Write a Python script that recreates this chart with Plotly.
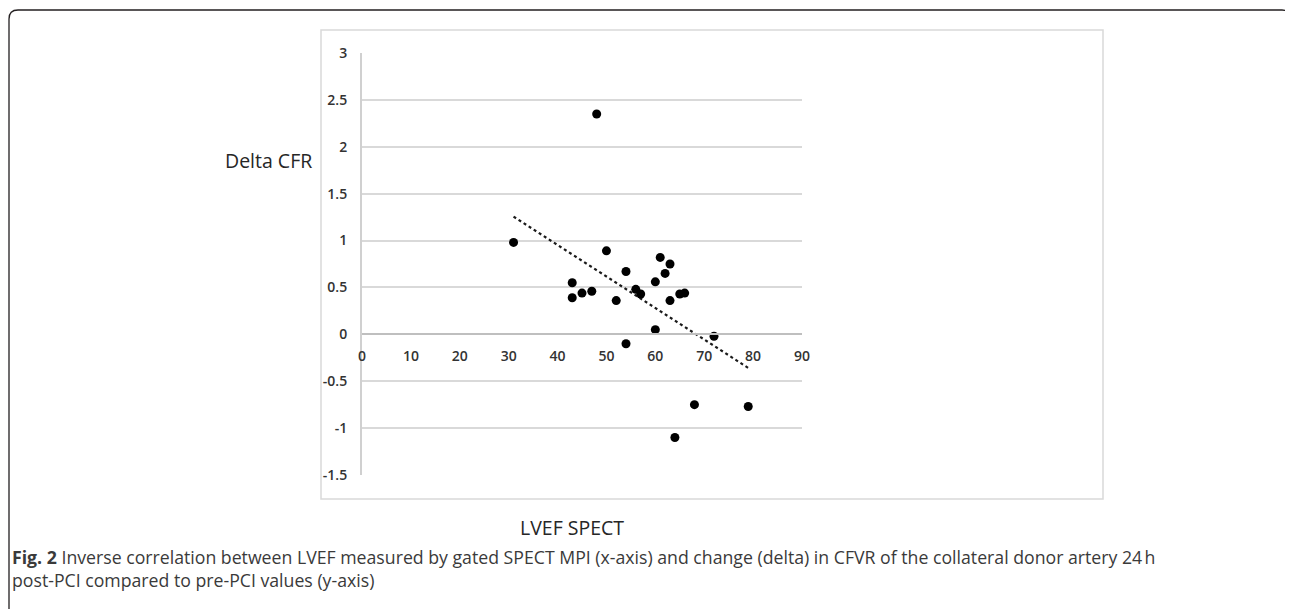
import numpy as np
import plotly.graph_objects as go

# ---- data ----
lvef_spect = [31, 43, 43, 45, 47, 48, 50, 52, 54, 54, 56, 57, 60, 60, 61, 62, 63, 63, 64, 65, 66, 68, 72, 79]
delta_cfr = [0.98, 0.55, 0.39, 0.44, 0.46, 2.35, 0.89, 0.36, 0.67, -0.10, 0.48, 0.43, 0.56, 0.05,
             0.82, 0.65, 0.75, 0.36, -1.10, 0.43, 0.44, -0.75, -0.02, -0.77]
x_ticks = [0, 10, 20, 30, 40, 50, 60, 70, 80, 90]
y_ticks = [-1.5, -1, -0.5, 0, 0.5, 1, 1.5, 2, 2.5, 3]
y_tick_labels = ["-1.5", "-1", "-0.5", "0", "0.5", "1", "1.5", "2", "2.5", "3"]
x_title = "LVEF SPECT"
y_title = "Delta CFR"
caption_bold = "Fig. 2"
caption_line1 = (" Inverse correlation between LVEF measured by gated SPECT MPI (x-axis) and change (delta) "
                 "in CFVR of the collateral donor artery 24\u202fh")
caption_line2 = "post-PCI compared to pre-PCI values (y-axis)"

# ---- layout geometry (screen pixels) ----
W, H = 1293, 609
OFF = 8  # default page margin of the html body
PL, PR, PT, PB = 362, 802, 53, 475


def px(x):
    return (x - PL) / (PR - PL)


def py(y):
    return (PB - y) / (PB - PT)


# linear (least squares) trendline from the data, spanning data range
slope, intercept = np.polyfit(lvef_spect, delta_cfr, 1)
tx = np.array([min(lvef_spect), max(lvef_spect)])
ty = slope * tx + intercept

fig = go.Figure()
fig.add_trace(go.Scatter(x=tx, y=ty, mode="lines",
                         line=dict(color="#1a1a1a", width=2.2, dash="dot"),
                         hoverinfo="skip", showlegend=False))
fig.add_trace(go.Scatter(x=lvef_spect, y=delta_cfr, mode="markers",
                         marker=dict(color="black", size=9),
                         showlegend=False))

ymin, ymax = y_ticks[0], y_ticks[-1]
tick_font = dict(family="Open Sans", size=14, color="#333333", weight=600)

fig.update_layout(
    width=W - OFF, height=H - OFF,
    margin=dict(l=PL - OFF, r=W - PR, t=PT - OFF, b=H - PB, pad=0),
    paper_bgcolor="white", plot_bgcolor="white",
    font=dict(family="Open Sans", color="#404040"),
    xaxis=dict(range=[x_ticks[0], x_ticks[-1]], tickvals=x_ticks,
               anchor="free", position=(0 - ymin) / (ymax - ymin),
               showgrid=False, zeroline=False,
               showline=True, linecolor="#bfbfbf", linewidth=2,
               ticks="", ticklabelstandoff=9, tickfont=tick_font),
    yaxis=dict(range=[ymin, ymax], tickvals=y_ticks, ticktext=y_tick_labels,
               showgrid=True, gridcolor="#d9d9d9", gridwidth=2,
               zeroline=False,
               showline=True, linecolor="#d0d0d0", linewidth=2,
               ticks="", ticklabelstandoff=10, tickfont=tick_font),
)

# chart area border
fig.add_shape(type="rect", xref="paper", yref="paper",
              x0=px(321), x1=px(1103), y0=py(499), y1=py(30),
              line=dict(color="#d9d9d9", width=1.5), layer="below")

# outer card with rounded top corners
L, R, T, B, r = 9, 1291, 10, 640, 9
path = (f"M {px(L)},{py(B)} L {px(L)},{py(T + r)} Q {px(L)},{py(T)} {px(L + r)},{py(T)} "
        f"L {px(R - r)},{py(T)} Q {px(R)},{py(T)} {px(R)},{py(T + r)} L {px(R)},{py(B)}")
fig.add_shape(type="path", xref="paper", yref="paper", path=path,
              line=dict(color="#231f20", width=1.3))

# axis titles
fig.add_annotation(xref="paper", yref="paper", x=px(268), y=py(160), text=y_title,
                   showarrow=False, xanchor="center", yanchor="middle",
                   font=dict(family="Open Sans", size=19.5, color="#262626"))
fig.add_annotation(xref="paper", yref="paper", x=px(572), y=py(527), text=x_title,
                   showarrow=False, xanchor="center", yanchor="middle",
                   font=dict(family="Open Sans", size=19.5, color="#262626"))

# caption (two lines in one text block)
fig.add_annotation(xref="paper", yref="paper", x=px(10), y=py(568.5),
                   text=f"<b>{caption_bold}</b>{caption_line1}<br>{caption_line2}",
                   showarrow=False, xanchor="left", yanchor="middle", align="left",
                   font=dict(family="Open Sans", size=17.7, color="#3a3a3a"))

fig.write_html("out.html")
